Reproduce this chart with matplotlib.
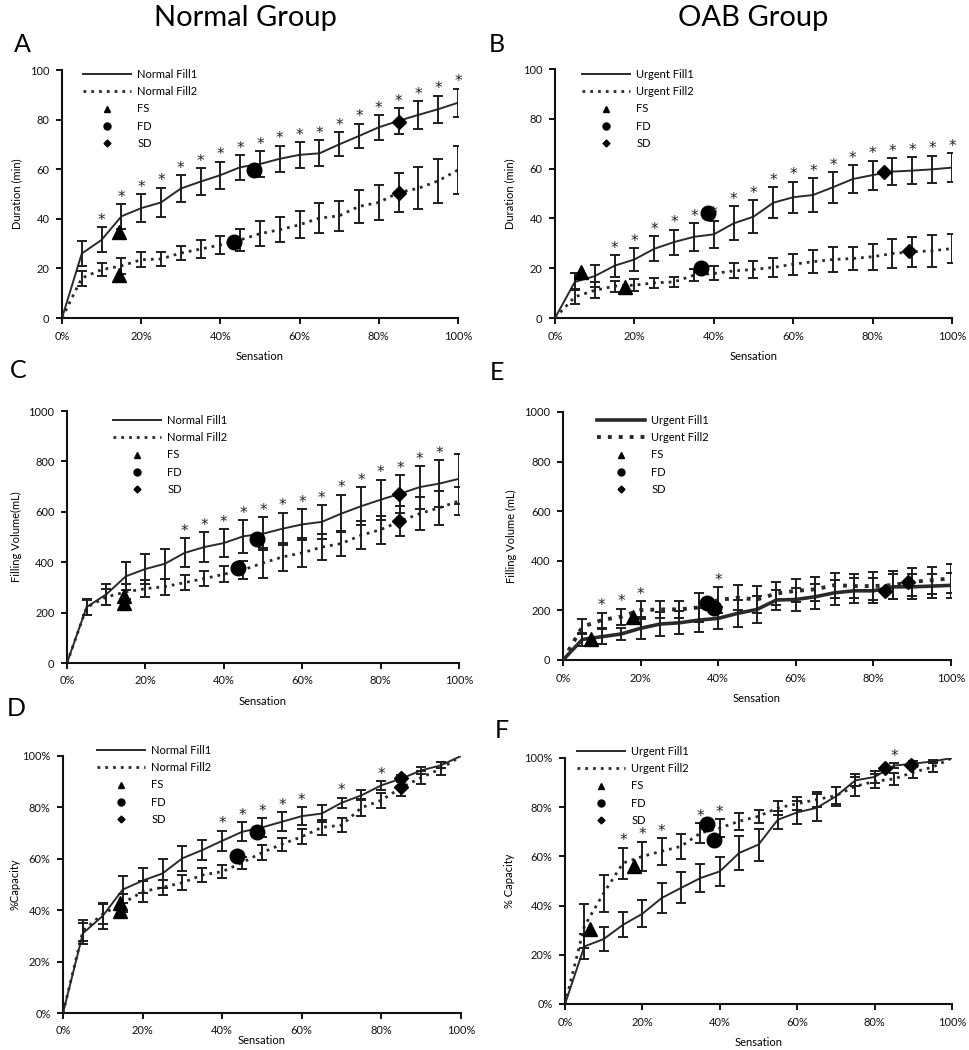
import matplotlib
matplotlib.use('Agg')
import matplotlib.pyplot as plt
from matplotlib.lines import Line2D
import numpy as np

plt.rcParams['font.family'] = ['Lato', 'DejaVu Sans']

# ---------------- data ----------------
sensation = [0, 5, 10, 15, 20, 25, 30, 35, 40, 45, 50, 55, 60, 65, 70, 75, 80, 85, 90, 95, 100]
x_ticks = [0, 20, 40, 60, 80, 100]
x_tick_labels = ['0%', '20%', '40%', '60%', '80%', '100%']

# Panel A: Normal group, duration (min)
a_fill1 = [0, 26, 31.5, 41, 44.3, 46.6, 52.2, 55, 57.6, 60.8, 62.1, 64.2, 65.8, 66.4, 70, 73.4, 76.9, 79.5, 81.9, 84.2, 86.8]
a_fill1_err = [0, 5, 5, 5, 5.5, 6, 5.5, 5.3, 5.5, 5, 5.3, 5.3, 5.2, 5.3, 4.8, 5, 5, 5.3, 5.5, 5.5, 5.7]
a_fill2 = [0, 16.1, 19.5, 21, 23.5, 23.8, 26.2, 27.8, 29.5, 31.5, 34, 35.6, 37.6, 40.3, 41.2, 45, 46.6, 50.6, 52.3, 55.3, 59.7]
a_fill2_err = [0, 3, 2.5, 3.3, 3, 3, 3, 3.5, 3.5, 4.5, 5, 5, 5.5, 6, 6, 6.5, 7, 8, 8.5, 9, 9.5]
a_fs = [(14.3, 34.5), (14.3, 17.4)]
a_fd = [(48.5, 59.7), (43.4, 30.7)]
a_sd = [(85.1, 79.2), (85.1, 50.6)]
a_stars = [10, 15, 20, 25, 30, 35, 40, 45, 50, 55, 60, 65, 70, 75, 80, 85, 90, 95, 100]

# Panel B: OAB group, duration (min)
b_fill1 = [0, 14.5, 16.8, 21, 23.5, 27.8, 30.5, 32.6, 33.6, 38, 40.7, 46.3, 48.5, 49.4, 52.5, 55.8, 57.4, 58.8, 59.2, 59.7, 60.4]
b_fill1_err = [0, 3.4, 4.3, 4.4, 4.5, 5, 5, 5.5, 5.5, 6.8, 6.5, 6.2, 6.3, 6.8, 6.2, 5.7, 5.8, 5.4, 5.5, 5.5, 5.7]
b_fill2 = [0, 8.5, 11.1, 12.8, 13.2, 14.1, 14.5, 17.2, 17.9, 18.9, 19.5, 20.3, 21.6, 22.6, 23.5, 23.9, 24.6, 25.9, 26.6, 27, 27.9]
b_fill2_err = [0, 3, 3.2, 2.2, 2.3, 2, 2, 2.5, 2.8, 3, 3.4, 3.7, 4.3, 4.7, 5, 4.8, 5.3, 6, 6, 6.5, 6]
b_fs = [(6.6, 18.5), (17.6, 12.3)]
b_fd = [(38.5, 42), (36.8, 19.9)]
b_sd = [(82.8, 58.7), (89.2, 27)]
b_stars = [15, 20, 25, 30, 35, 40, 45, 50, 55, 60, 65, 70, 75, 80, 85, 90, 95, 100]

# Panel C: Normal group, filling volume (mL)
c_fill1 = [0, 222, 272, 344, 373, 394, 437, 460, 476, 503, 513, 533, 550, 560, 593, 622, 648, 672, 698, 712, 731]
c_fill1_err = [0, 30, 40, 55, 60, 60, 58, 58, 55, 65, 66, 64, 62, 67, 75, 76, 80, 75, 85, 92, 100]
c_fill2 = [0, 220, 262, 282, 295, 303, 319, 335, 352, 370, 397, 421, 437, 460, 474, 507, 529, 563, 593, 616, 643]
c_fill2_err = [0, 30, 30, 30, 33, 32, 30, 30, 32, 36, 58, 55, 58, 50, 50, 55, 55, 60, 65, 68, 57]
c_fs = [(14.6, 265), (14.6, 238)]
c_fd = [(48.4, 493), (43.5, 378)]
c_sd = [(84.7, 669), (84.7, 563)]
c_stars = [30, 35, 40, 45, 50, 55, 60, 65, 70, 75, 80, 85, 90, 95]

# Panel E: OAB group, filling volume (mL)
e_fill1 = [0, 83, 94, 105, 128, 145, 150, 161, 168, 188, 204, 242, 244, 255, 271, 279, 279, 295, 295, 298, 301]
e_fill1_err = [0, 25, 30, 25, 45, 50, 47, 50, 45, 55, 55, 40, 45, 50, 50, 50, 50, 50, 50, 50, 50]
e_fill2 = [0, 134, 161, 175, 201, 204, 204, 212, 242, 251, 244, 268, 279, 285, 302, 298, 298, 302, 315, 322, 329]
e_fill2_err = [0, 30, 30, 32, 35, 33, 33, 60, 52, 50, 55, 47, 47, 48, 50, 50, 55, 55, 55, 55, 60]
e_fs = [(7.1, 83), (18, 174)]
e_fd = [(37, 228), (39, 208)]
e_sd = [(83, 279), (89, 315)]
e_stars = [10, 15, 20, 40]

# Panel D: Normal group, % capacity
d_fill1 = [0, 31, 37.8, 48, 51.5, 54.3, 60.2, 63.4, 67, 70.5, 72.2, 74.4, 76.6, 77.6, 81.8, 84.7, 88.6, 91.2, 94.4, 96.4, 100]
d_fill1_err = [0, 4, 5, 5.3, 5, 5.5, 4.8, 3.8, 4, 3.7, 3.7, 3.7, 3.4, 3.3, 2, 2, 1.8, 1.5, 1.5, 1.2, 0]
d_fill2 = [0, 32, 38.5, 42.7, 47.2, 48.9, 50.7, 53.7, 55, 58.5, 62.4, 65.7, 68.6, 72.2, 73.1, 79.9, 82.8, 87.7, 91.6, 95.1, 100]
d_fill2_err = [0, 4, 4, 3.5, 4, 3, 3, 2.6, 2.6, 2.3, 3, 2.5, 3, 3, 2.6, 3.4, 2.9, 3.2, 2.5, 2.5, 0]
d_fs = [(14.4, 42.7), (14.4, 39.8)]
d_fd = [(48.8, 70.5), (43.6, 61)]
d_sd = [(84.9, 91.6), (84.9, 88)]
d_stars = [40, 45, 50, 55, 60, 70, 80]

# Panel F: OAB group, % capacity
f_fill1 = [0, 23.4, 26.4, 32.2, 36.7, 43.1, 47.2, 51.2, 53.9, 61.4, 64.8, 74.9, 77.9, 79.7, 84.4, 90.9, 92.3, 96.9, 97.7, 98.6, 100]
f_fill1_err = [0, 5, 5, 5, 5.5, 6.2, 6.3, 5.8, 6, 7, 6.5, 3.7, 4.8, 5.5, 4, 2.4, 2.5, 1, 1, 0.5, 0]
f_fill2 = [0, 31.6, 45.1, 57.3, 60, 62.1, 64.1, 69.5, 71.5, 74.3, 76.3, 79.7, 81.4, 83.1, 84.7, 88.5, 90.5, 91.5, 94.2, 96.3, 100]
f_fill2_err = [0, 9, 7.5, 6.3, 6, 5.5, 5, 4.2, 3.8, 3.5, 2.6, 3, 2.7, 3, 3.5, 3.8, 2.8, 2.4, 2.2, 2, 0]
f_fs = [(6.5, 30.5), (17.9, 56)]
f_fd = [(36.6, 73.3), (38.6, 66.5)]
f_sd = [(82.8, 95.9), (89.5, 97.3)]
f_stars = [15, 20, 25, 35, 40, 85]

dur_ticks = [0, 20, 40, 60, 80, 100]
dur_labels = ['0', '20', '40', '60', '80', '100']
vol_ticks = [0, 200, 400, 600, 800, 1000]
vol_labels = ['0', '200', '400', '600', '800', '1000']
cap_ticks = [0, 20, 40, 60, 80, 100]
cap_labels = ['0%', '20%', '40%', '60%', '80%', '100%']

# ---------------- figure ----------------
W, H = 970, 1050
fig = plt.figure(figsize=(W / 100, H / 100), dpi=100)

LINE_C = '#2a2a2a'
ERR_C = '#1e1e1e'
FS = 8


def px_axes(l, r, t, b):
    return fig.add_axes([l / W, 1 - b / H, (r - l) / W, (b - t) / H])


panels = [
    dict(box=(62, 458, 70, 318), f1=a_fill1, e1=a_fill1_err, f2=a_fill2, e2=a_fill2_err,
         fs=a_fs, fd=a_fd, sd=a_sd, stars=a_stars, yt=dur_ticks, yl=dur_labels, ymax=100,
         ylabel='Duration (min)', names=('Normal Fill1', 'Normal Fill2'), lw=1.4,
         leg=(83, 69), ylab_x=22, xlab_gap=33, letter=('A', 22, 45)),
    dict(box=(555, 952, 69, 318), f1=b_fill1, e1=b_fill1_err, f2=b_fill2, e2=b_fill2_err,
         fs=b_fs, fd=b_fd, sd=b_sd, stars=b_stars, yt=dur_ticks, yl=dur_labels, ymax=100,
         ylabel='Duration (min)', names=('Urgent Fill1', 'Urgent Fill2'), lw=1.4,
         leg=(582, 69), ylab_x=515, xlab_gap=33, letter=('B', 497, 45)),
    dict(box=(67, 459, 411, 663), f1=c_fill1, e1=c_fill1_err, f2=c_fill2, e2=c_fill2_err,
         fs=c_fs, fd=c_fd, sd=c_sd, stars=c_stars, yt=vol_ticks, yl=vol_labels, ymax=1000,
         ylabel='Filling Volume(mL)', names=('Normal Fill1', 'Normal Fill2'), lw=1.4,
         leg=(113, 415), ylab_x=22, xlab_gap=33, letter=('C', 18, 370)),
    dict(box=(563, 951, 412, 660), f1=e_fill1, e1=e_fill1_err, f2=e_fill2, e2=e_fill2_err,
         fs=e_fs, fd=e_fd, sd=e_sd, stars=e_stars, yt=vol_ticks, yl=vol_labels, ymax=1000,
         ylabel='Filling Volume (mL)', names=('Urgent Fill1', 'Urgent Fill2'), lw=2.6,
         leg=(597, 415), ylab_x=517, xlab_gap=33, letter=('E', 497, 372)),
    dict(box=(63, 461, 756, 1013), f1=d_fill1, e1=d_fill1_err, f2=d_fill2, e2=d_fill2_err,
         fs=d_fs, fd=d_fd, sd=d_sd, stars=d_stars, yt=cap_ticks, yl=cap_labels, ymax=100,
         ylabel='%Capacity', names=('Normal Fill1', 'Normal Fill2'), lw=1.4,
         leg=(97, 745), ylab_x=20, xlab_gap=22, letter=('D', 16, 708)),
    dict(box=(565, 952, 758, 1004), f1=f_fill1, e1=f_fill1_err, f2=f_fill2, e2=f_fill2_err,
         fs=f_fs, fd=f_fd, sd=f_sd, stars=f_stars, yt=cap_ticks, yl=cap_labels, ymax=100,
         ylabel='% Capacity', names=('Urgent Fill1', 'Urgent Fill2'), lw=1.4,
         leg=(577, 746), ylab_x=515, xlab_gap=33, letter=('F', 502, 731)),
]

x = np.array(sensation, dtype=float)

for p in panels:
    l, r, t, b = p['box']
    ax = px_axes(l, r, t, b)
    f1 = np.array(p['f1'], dtype=float)
    e1 = np.array(p['e1'], dtype=float)
    f2 = np.array(p['f2'], dtype=float)
    e2 = np.array(p['e2'], dtype=float)
    lw = p['lw']
    dot_lw = 2.0 if lw < 2 else 2.8
    dot_ls = (0, (1, 1.8))

    ax.plot(x, f1, '-', color=LINE_C, lw=lw, zorder=3)
    ax.plot(x, f2, linestyle=dot_ls, color=LINE_C, lw=dot_lw, zorder=3)
    m1 = e1 > 0
    m2 = e2 > 0
    ax.errorbar(x[m1], f1[m1], yerr=e1[m1], fmt='none', ecolor=ERR_C, elinewidth=1.4,
                capsize=3.6, capthick=1.4, zorder=4)
    ax.errorbar(x[m2], f2[m2], yerr=e2[m2], fmt='none', ecolor=ERR_C, elinewidth=1.4,
                capsize=3.6, capthick=1.4, zorder=4)

    ax.plot([q[0] for q in p['fs']], [q[1] for q in p['fs']], '^', color='black', ms=10,
            ls='none', zorder=5)
    ax.plot([q[0] for q in p['fd']], [q[1] for q in p['fd']], 'o', color='black', ms=10.5,
            ls='none', zorder=5)
    ax.plot([q[0] for q in p['sd']], [q[1] for q in p['sd']], 'D', color='black', ms=7.5,
            ls='none', zorder=5)

    for xs in p['stars']:
        i = sensation.index(xs)
        top = max(f1[i] + e1[i], f2[i] + e2[i])
        ax.annotate('*', (xs, top), xytext=(0, 4.8), textcoords='offset points',
                    ha='center', va='center', fontsize=11, color='#222', zorder=6,
                    annotation_clip=False, family=['DejaVu Sans'])

    ax.set_xlim(0, 100)
    ax.set_ylim(0, p['ymax'])
    ax.set_xticks(x_ticks)
    ax.set_xticklabels(x_tick_labels)
    ax.set_yticks(p['yt'])
    ax.set_yticklabels(p['yl'])
    for s in ('top', 'right'):
        ax.spines[s].set_visible(False)
    for s in ('left', 'bottom'):
        ax.spines[s].set_linewidth(1.5)
        ax.spines[s].set_color('#111')
    ax.tick_params(axis='both', direction='out', length=4, width=1.4, labelsize=FS,
                   colors='#111')
    ax.tick_params(axis='x', pad=5)
    ax.tick_params(axis='y', pad=5)
    ax.set_facecolor('white')

    hpx = b - t
    wpx = r - l
    ax.set_xlabel('Sensation', fontsize=FS)
    ax.xaxis.set_label_coords(0.5, -p['xlab_gap'] / hpx)
    ax.set_ylabel(p['ylabel'], fontsize=FS)
    ax.yaxis.set_label_coords((p['ylab_x'] - l) / wpx, 0.5)

    handles = [
        Line2D([], [], color=LINE_C, lw=lw, ls='-'),
        Line2D([], [], color=LINE_C, lw=dot_lw, ls=dot_ls),
        Line2D([], [], color='black', marker='^', ls='none', ms=5),
        Line2D([], [], color='black', marker='o', ls='none', ms=5),
        Line2D([], [], color='black', marker='D', ls='none', ms=3.5),
    ]
    labels = [p['names'][0], p['names'][1], 'FS', 'FD', 'SD']
    lx, ly = p['leg']
    ax.legend(handles, labels, loc='upper left',
              bbox_to_anchor=((lx - l) / wpx, 1 - (ly - t) / hpx),
              frameon=False, fontsize=FS, handlelength=4.3, handletextpad=0.6,
              labelspacing=0.56, borderaxespad=0, borderpad=0)

    letter, lxp, lyp = p['letter']
    fig.text(lxp / W, 1 - lyp / H, letter, fontsize=18, ha='center', va='center')

fig.text(245 / W, 1 - 18 / H, 'Normal Group', fontsize=21, ha='center', va='center')
fig.text(753 / W, 1 - 18 / H, 'OAB Group', fontsize=21, ha='center', va='center')

fig.savefig('out.png', dpi=100, facecolor='white')
